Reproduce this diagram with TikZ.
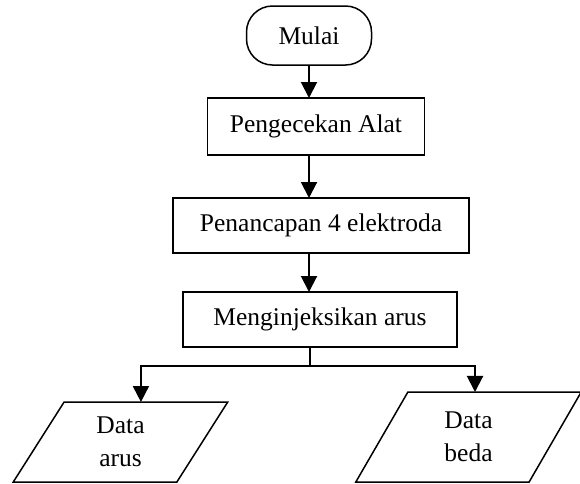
\documentclass[tikz,border=0pt]{standalone}
\usepackage{fontspec}
\setmainfont{Liberation Serif}
\usetikzlibrary{shapes.geometric,arrows.meta}

\tikzset{
  mulaibox/.style={draw=black, line width=1.5pt, rectangle, rounded corners=26pt,
    font=\fontsize{25.5}{33}\selectfont},
  proses/.style={draw=black, line width=1.5pt, rectangle,
    font=\fontsize{25.5}{33}\selectfont},
  dataio/.style={draw=black, line width=1.5pt, trapezium, trapezium stretches=true,
    align=center, font=\fontsize{25.5}{33}\selectfont},
  garis/.style={draw=black, line width=2pt},
  panah/.style={garis, -{Triangle[width=16pt,length=16pt]}}
}

\begin{document}
\begin{tikzpicture}[y=1pt, x=1pt, yscale=-1, inner sep=0pt, outer sep=0pt]
\useasboundingbox (0,0) rectangle (580,483);
% langkah-langkah
\node[mulaibox, minimum width=125pt, minimum height=59pt] (mulai) at (309,35.5)
  {Mulai};
\node[proses, minimum width=217pt, minimum height=57pt] (alat) at (316,126.5)
  {Pengecekan Alat};
\node[proses, minimum width=296pt, minimum height=55pt] (elektroda) at (321,225.5)
  {Penancapan 4 elektroda};
\node[proses, minimum width=274pt, minimum height=55pt] (injeksi) at (320,319.5)
  {Menginjeksikan arus};
% data keluaran
\node[dataio, minimum width=215pt, minimum height=80pt,
  trapezium left angle=66.5, trapezium right angle=113.5] (arus) at (120.5,442)
  {Data\\arus};
\node[dataio, minimum width=227pt, minimum height=90pt,
  trapezium left angle=67.5, trapezium right angle=112.5] (beda) at (468.5,437)
  {Data\\beda};
% alur
\draw[panah] (mulai.south) -- (mulai.south |- alat.north);
\draw[panah] (mulai.south |- alat.south) -- (mulai.south |- elektroda.north);
\draw[panah] (mulai.south |- elektroda.south) -- (mulai.south |- injeksi.north);
\draw[garis] ([xshift=-10pt]injeksi.south) -- ++(0,19) coordinate (cabang);
\draw[panah] (cabang) -| ([xshift=-5pt]arus.top side);
\draw[panah] (cabang) -| ([xshift=6.5pt]beda.north);

\end{tikzpicture}
\end{document}
